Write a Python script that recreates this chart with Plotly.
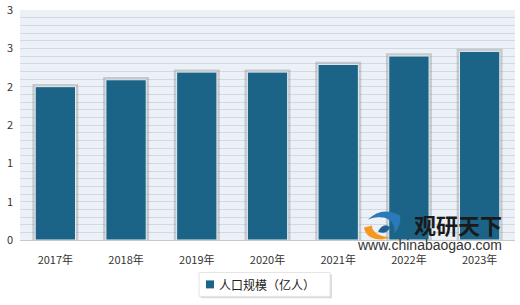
import plotly.graph_objects as go

categories = ["2017年", "2018年", "2019年", "2020年", "2021年", "2022年", "2023年"]
population = [2.00, 2.09, 2.19, 2.19, 2.29, 2.40, 2.46]
y_tickvals = [0, 0.5, 1, 1.5, 2, 2.5, 3]
y_ticktext = ["0", "1", "1", "2", "2", "3", "3"]
series_name = "人口规模（亿人）"

FONT = "Noto Sans CJK SC, Liberation Sans, sans-serif"
BAR_COLOR = "#1b6487"

W, H = 520, 305
L, R, T, B = 20, 5, 10, 64.5
PW, PH = W - L - R, H - T - B


def px(x):
    return (x - L) / PW


def py(y):
    return (H - B - y) / PH


fig = go.Figure()
# soft shadow behind the bars
fig.add_trace(go.Bar(
    x=categories, y=[v + 0.035 for v in population], width=0.65,
    marker=dict(color="rgba(120,120,120,0.32)", line=dict(width=0)),
    showlegend=False, hoverinfo="skip",
))
fig.add_trace(go.Bar(
    x=categories, y=population, width=0.57, name=series_name,
    marker=dict(color=BAR_COLOR, line=dict(color="#e4edf3", width=1)),
    showlegend=False,
))

fig.update_layout(
    width=W, height=H,
    margin=dict(l=L, r=R, t=T, b=B, autoexpand=False),
    barmode="overlay",
    paper_bgcolor="white",
    plot_bgcolor="#ebf1f7",
    font=dict(family=FONT, size=11, color="#333333"),
    showlegend=False,
    xaxis=dict(
        showgrid=False, showline=True, linecolor="#c8c8c8", linewidth=1,
        ticks="", tickfont=dict(size=11, color="#333333"),
        ticklabelstandoff=10, automargin=False,
    ),
    yaxis=dict(
        range=[0, 3.0], tickvals=y_tickvals, ticktext=y_ticktext,
        showgrid=True, gridcolor="#d3d9e0", gridwidth=1,
        minor=dict(dtick=0.1, showgrid=True, gridcolor="#d3d9e0", gridwidth=1),
        zeroline=False, ticks="", tickfont=dict(size=11, color="#333333"),
        ticklabelstandoff=6, automargin=False,
    ),
)

# manual legend
fig.add_shape(type="rect", xref="paper", yref="paper",
              x0=px(201), x1=px(332), y0=py(299), y1=py(275),
              fillcolor="#dcdcdc", line=dict(width=0), layer="below")
fig.add_shape(type="rect", xref="paper", yref="paper",
              x0=px(199), x1=px(330), y0=py(297), y1=py(273),
              fillcolor="white", line=dict(color="#e3e3e3", width=1))
fig.add_shape(type="rect", xref="paper", yref="paper",
              x0=px(206), x1=px(214), y0=py(289), y1=py(281),
              fillcolor=BAR_COLOR, line=dict(width=0))
fig.add_annotation(xref="paper", yref="paper", x=px(217), y=py(285),
                   xanchor="left", yanchor="middle", text=series_name, showarrow=False,
                   font=dict(size=12, color="#222222", family=FONT))

# watermark
fig.add_annotation(xref="paper", yref="paper", x=px(504), y=py(224), xanchor="right", yanchor="middle",
                   text="<b>观研天下</b>", showarrow=False,
                   font=dict(size=22, color="#1a1a1a", family=FONT))
fig.add_annotation(xref="paper", yref="paper", x=px(504), y=py(246), xanchor="right", yanchor="middle",
                   text="www.chinabaogao.com", showarrow=False,
                   font=dict(size=14, color="#333333", family="Liberation Sans, sans-serif"))
# logo approximation
fig.add_shape(type="path", xref="paper", yref="paper",
              path=(f"M {px(364)} {py(228)} Q {px(366)} {py(240)} {px(382)} {py(240)} "
                    f"L {px(390)} {py(238)} Q {px(372)} {py(236)} {px(372)} {py(226)} Z"),
              fillcolor="#f39a1e", line=dict(width=0))
fig.add_shape(type="path", xref="paper", yref="paper",
              path=(f"M {px(368)} {py(220)} Q {px(382)} {py(206)} {px(400)} {py(216)} "
                    f"Q {px(402)} {py(226)} {px(394)} {py(234)} Q {px(396)} {py(222)} {px(384)} {py(218)} "
                    f"Q {px(376)} {py(216)} {px(368)} {py(220)} Z"),
              fillcolor="#2a79b8", line=dict(width=0))
fig.add_shape(type="path", xref="paper", yref="paper",
              path=(f"M {px(378)} {py(232)} Q {px(384)} {py(222)} {px(390)} {py(228)} "
                    f"Q {px(386)} {py(236)} {px(378)} {py(232)} Z"),
              fillcolor="#1e5f96", line=dict(width=0))

fig.write_html("out.html")
